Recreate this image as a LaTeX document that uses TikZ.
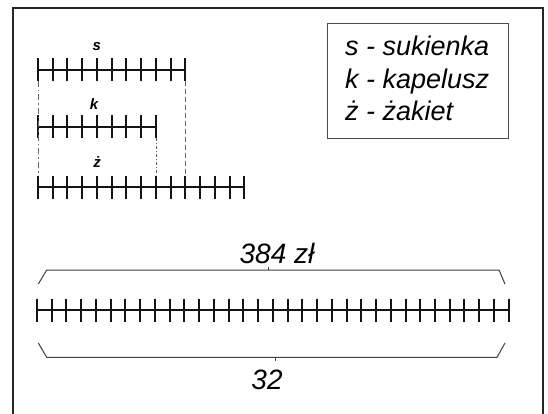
\documentclass[tikz,border=0pt]{standalone}
\usepackage{fontspec}
\setmainfont{Liberation Sans}
\newcommand\unitw{14.74}
% a bar of #3 equal parts starting at (#1,#2); ticks are kept on whole points
\newcommand\drawtape[3]{%
  \draw[tape] (#1,#2) -- ({round(#1+#3*\unitw)},#2);
  \foreach \i in {0,...,#3}
    \draw[tape] ({round(#1+\i*\unitw)},#2-11.5) -- ++(0,23);
}
\begin{document}
\begin{tikzpicture}[x=1pt,y=-1pt,
  tape/.style={line width=2.2pt, black!92},
  guide/.style={line width=0.8pt, black!60},
  brace/.style={line width=1pt, black!75},
  legendtext/.style={font=\fontsize{27}{30}\selectfont\itshape, anchor=base west, inner sep=0pt},
  tapelabel/.style={font=\fontsize{15}{16}\selectfont\bfseries\itshape, anchor=base, inner sep=0pt},
  totaltext/.style={font=\fontsize{28}{30}\selectfont\itshape, anchor=base, inner sep=0pt}]
\useasboundingbox (0,0) rectangle (548,414);
\fill[white] (0,0) rectangle (548,414);
% outer frame
\draw[line width=2pt, black!85] (13,414) -- (13,8) -- (543,8) -- (543,414);
% legend
\node[draw=black!70, line width=1.1pt, minimum width=181pt, minimum height=115pt,
      anchor=north west, inner sep=0pt] (legend) at (327,23) {};
\node[legendtext] (ls) at (345,56) {s - sukienka};
\node[legendtext] (lk) at (345,89) {k - kapelusz};
\node[legendtext] (lz) at (345,121) {ż - żakiet};
% the three bars
\drawtape{38}{70}{10}
\drawtape{38}{127}{8}
\drawtape{38}{187}{14}
\node[tapelabel] (ts) at (96.7,51) {s};
\node[tapelabel] (tk) at (94,109.5) {k};
\node[tapelabel] (tz) at (97,167.5) {ż};
% guide lines between the bars
\coordinate (sL) at (38,81);
\coordinate (sR) at (185,81);
\coordinate (kR) at (156,138);
\coordinate (zL) at (38,175);
\coordinate (zS) at (185,175);
\coordinate (zK) at (156,175);
\draw[guide, dash pattern=on 6pt off 3pt on 1.5pt off 3pt] (sL) -- (zL);
\draw[guide, dash pattern=on 5pt off 3pt] (sR) -- (zS);
\draw[guide, dash pattern=on 3pt off 2pt on 1pt off 2pt] (kR) -- (zK);
% the whole
\drawtape{37}{310}{32}
% upper brace
\coordinate (bt1) at (38.3,284);
\coordinate (bt2) at (46.7,270);
\coordinate (bt3) at (499,270);
\coordinate (bt4) at (505,284);
\draw[brace] (bt1) -- (bt2) -- (bt3) -- (bt4);
\draw[brace] (268,270) -- (268,266.5);
\node[totaltext] (money) at (277,263) {384 zł};
% lower brace
\coordinate (bb1) at (38.3,343);
\coordinate (bb2) at (46.7,357.3);
\coordinate (bb3) at (497,357.3);
\coordinate (bb4) at (505,343);
\draw[brace] (bb1) -- (bb2) -- (bb3) -- (bb4);
\draw[brace] (275,357.3) -- (275,361);
\node[totaltext] (parts) at (267,389) {32};
\end{tikzpicture}
\end{document}
